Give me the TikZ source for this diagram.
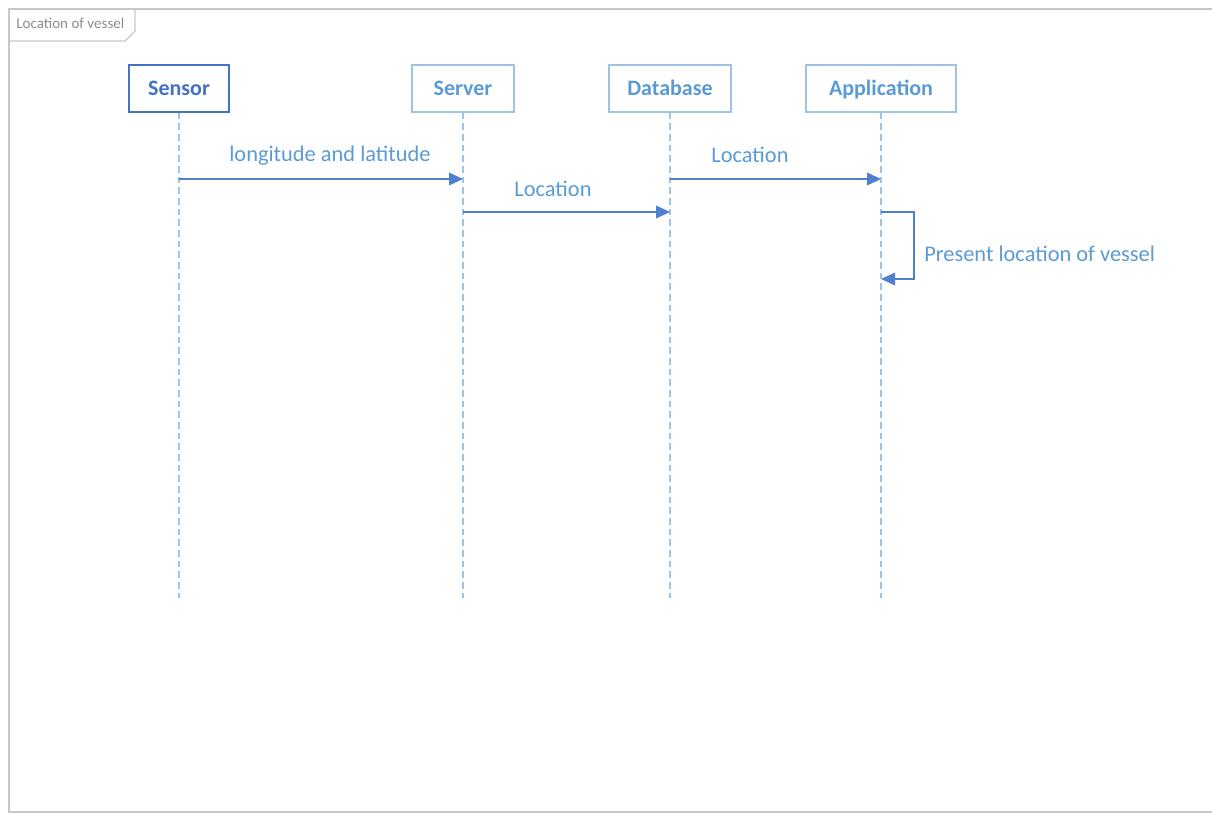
\documentclass[tikz,border=0pt]{standalone}
\usepackage{fontspec}
\setmainfont{Carlito}
\usetikzlibrary{arrows.meta}
\definecolor{frameg}{HTML}{C8C8C8}
\definecolor{titleg}{HTML}{8C8C8C}
\definecolor{darkb}{HTML}{4472C4}
\definecolor{lightb}{HTML}{9DC3E6}
\definecolor{textb}{HTML}{5B9BD5}
\definecolor{lineb}{HTML}{4F7FCF}
\tikzset{
  lifebox/.style={draw=lightb, line width=1.2pt, fill=white, text=textb, font=\bfseries\fontsize{16.5}{18}\selectfont, minimum height=35.25pt, inner sep=0pt, text height=11pt, text depth=0pt},
  lifeline/.style={draw=lightb, line width=0.8pt, dash pattern=on 5pt off 3pt},
  msg/.style={draw=lineb, line width=1.1pt, -{Triangle[length=10.5pt,width=9.5pt]}},
  msglabel/.style={text=textb, font=\fontsize{16.8}{18}\selectfont, inner sep=0pt, anchor=base}
}
\begin{document}
\begin{tikzpicture}[x=0.75pt,y=-0.75pt]
\useasboundingbox (0,0) rectangle (1212,813);
% frame
\draw[frameg, line width=1.2pt] (1212,9) -- (9,9) -- (9,812) -- (1212,812);
\draw[frameg, line width=1pt] (9,41) -- (125,41) -- (135,31) -- (135,9);
\node[text=titleg, font=\fontsize{11.3}{12}\selectfont, anchor=base west, inner sep=0pt] (title) at (16,29) {Location of vessel};
% lifeline boxes
\node[lifebox, draw=darkb, text=darkb, minimum width=75pt] (sensor) at (179,88.5) {Sensor};
\node[lifebox, minimum width=76.5pt] (server) at (463,88.5) {Server};
\node[lifebox, minimum width=91.5pt] (database) at (670,88.5) {Database};
\node[lifebox, minimum width=112.5pt] (app) at (881,88.5) {Application};
% lifeline ends
\coordinate (sensorEnd) at (179,598);
\coordinate (serverEnd) at (463,598);
\coordinate (databaseEnd) at (670,598);
\coordinate (appEnd) at (881,598);
\draw[lifeline] (sensor.south) -- (sensorEnd);
\draw[lifeline] (server.south) -- (serverEnd);
\draw[lifeline] (database.south) -- (databaseEnd);
\draw[lifeline] (app.south) -- (appEnd);
% messages
\coordinate (m1s) at (179,179);
\coordinate (m1e) at (463,179);
\draw[msg] (m1s) -- (m1e);
\node[msglabel] (l1) at (330,161.5) {longitude and latitude};
\coordinate (m2s) at (463,212);
\coordinate (m2e) at (670,212);
\draw[msg] (m2s) -- (m2e);
\node[msglabel] (l2) at (553,196.5) {Location};
\coordinate (m3s) at (670,179);
\coordinate (m3e) at (881,179);
\draw[msg] (m3s) -- (m3e);
\node[msglabel] (l3) at (750,162.5) {Location};
\coordinate (m4s) at (881,212);
\coordinate (m4e) at (881,279);
\draw[msg] (m4s) -- (914,212) -- (914,279) -- (m4e);
\node[msglabel, anchor=base west] (l4) at (924,261.5) {Present location of vessel};
\end{tikzpicture}
\end{document}
